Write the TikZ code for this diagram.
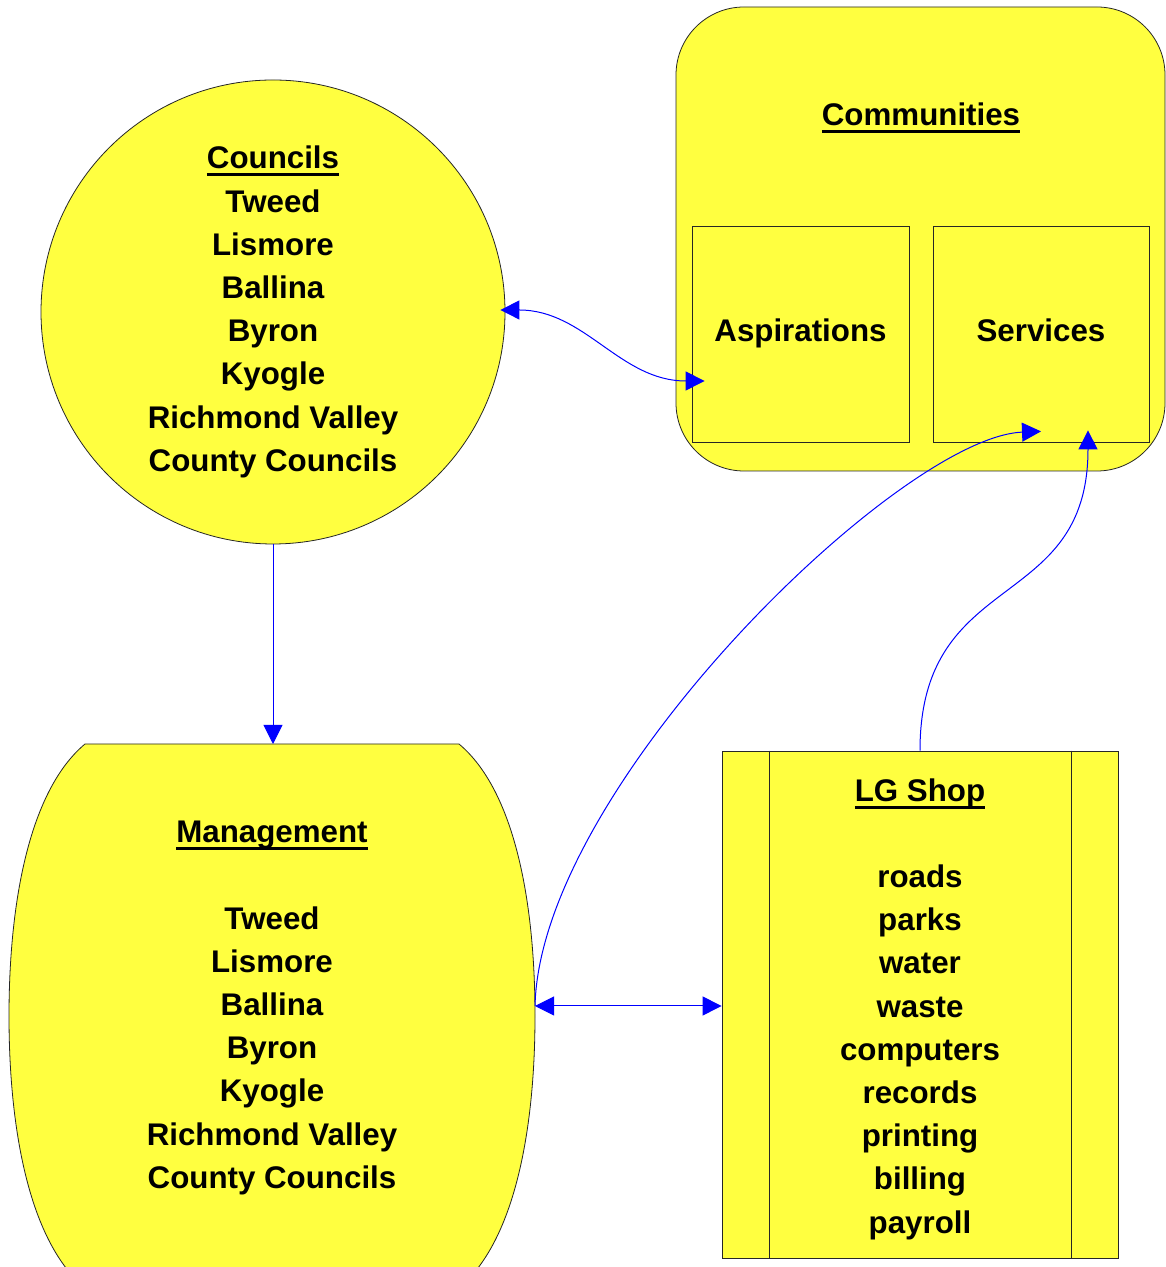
\documentclass[tikz,border=0pt]{standalone}
\usepackage{fontspec}
\setmainfont{Liberation Sans}
\usetikzlibrary{arrows.meta,calc}
\definecolor{fillY}{RGB}{255,255,64}
\definecolor{connB}{RGB}{0,0,255}
\newsavebox\ulbox
\newcommand\myul[1]{\sbox\ulbox{#1}\rlap{\rule[-7.5pt]{\wd\ulbox}{3pt}}\usebox\ulbox}
\begin{document}
\begin{tikzpicture}[x=1pt,y=1pt,
  txt/.style={font=\fontsize{31.3}{43.2}\selectfont\bfseries, align=center, inner sep=0pt},
  shapebox/.style={draw=black!85, line width=0.8pt, fill=fillY},
  conn/.style={draw=connB, line width=1pt, -{Triangle[length=19pt,width=19pt]}},
  conn2/.style={draw=connB, line width=1pt, {Triangle[length=19pt,width=19pt]}-{Triangle[length=19pt,width=19pt]}}]
\useasboundingbox (0,0) rectangle (1166,1267);
\clip (0,0) rectangle (1166,1267);
\fill[white] (0,0) rectangle (1166,1267);

% Councils
\node[shapebox, txt, circle, minimum size=464pt] (councils) at (273,955)
  {\myul{Councils}\\Tweed\\Lismore\\Ballina\\Byron\\Kyogle\\Richmond Valley\\County Councils};

% Management
\path[shapebox] (85,523) -- (459,523) .. controls (514,477) and (535,367) .. (535,251)
  .. controls (535,135) and (514,25) .. (459,-21) -- (85,-21)
  .. controls (30,25) and (9,135) .. (9,251) .. controls (9,367) and (30,477) .. (85,523) -- cycle;
\coordinate (mtop) at (272,523);
\coordinate (mright) at (535,261);
\node[txt] (mgmt) at (272,259)
  {\myul{Management}\\[43.2pt]Tweed\\Lismore\\Ballina\\Byron\\Kyogle\\Richmond Valley\\County Councils};

% Communities
\node[shapebox, rounded corners=68pt, minimum width=489pt, minimum height=464pt, inner sep=0pt] (comm) at (920.5,1028) {};
\node[txt, anchor=base] (commtitle) at (921,1141) {\myul{Communities}};
\node[shapebox, txt, minimum width=217pt, minimum height=216pt, text height=22.4pt, text depth=6.6pt] (asp) at (800.5,933) {Aspirations};
\node[shapebox, txt, minimum width=216pt, minimum height=216pt, text height=22.4pt, text depth=6.6pt] (serv) at (1041,933) {Services};

% LG Shop
\node[shapebox, minimum width=396pt, minimum height=507pt, inner sep=0pt] (lg) at (920,262.5) {};
\draw[draw=black!85, line width=0.8pt] ([xshift=48pt]lg.north west) -- ([xshift=48pt]lg.south west);
\draw[draw=black!85, line width=0.8pt] ([xshift=-47pt]lg.north east) -- ([xshift=-47pt]lg.south east);
\node[txt] (lgtext) at (920,258)
  {\myul{LG Shop}\\[43.2pt]roads\\parks\\water\\waste\\computers\\records\\printing\\billing\\payroll};

% Connectors
\draw[conn] (councils.south) -- (councils.south |- mtop);
\draw[conn2] ([xshift=-5pt,yshift=2pt]councils.east) to[out=0,in=180] ([xshift=13pt,yshift=-47pt]asp.west);
\draw[conn2] (mright) -- (mright -| lg.west);
\draw[conn] (mright) .. controls (540,480) and (900,830) .. ([yshift=11pt]serv.south);
\draw[conn] (lg.north) to[out=90,in=-90,looseness=1.3] ([xshift=47pt,yshift=12pt]serv.south);
\end{tikzpicture}
\end{document}
